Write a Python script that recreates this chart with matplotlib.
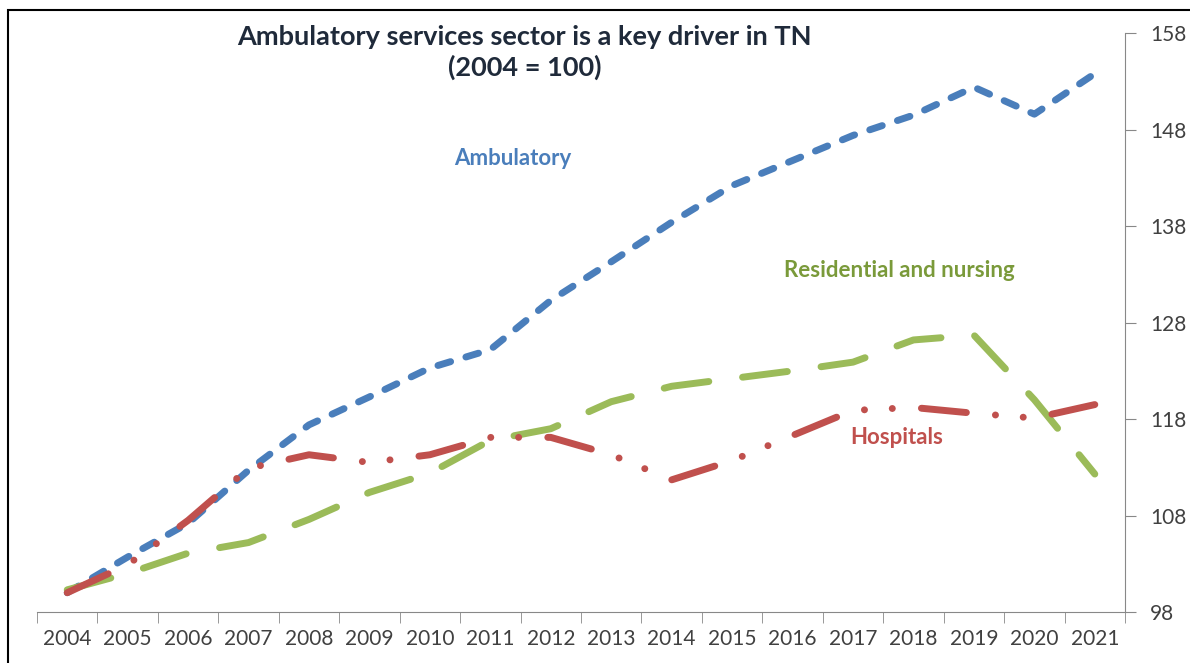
import matplotlib.pyplot as plt
from matplotlib.patches import Rectangle

# Index 2004 = 100
years = [str(y) for y in range(2004, 2022)]
ambulatory = [100, 103.7, 107.2, 112.7, 117.4, 120.3, 123.3, 125.2, 130.3,
              134.3, 138.4, 142.2, 144.8, 147.4, 149.5, 152.4, 149.6, 153.8]
residential = [100.3, 102.0, 104.1, 105.2, 107.6, 110.4, 112.4, 115.8, 117.0,
               119.8, 121.4, 122.2, 123.0, 123.9, 126.2, 126.7, 120.0, 112.3]
hospitals = [100, 102.9, 107.5, 112.9, 114.3, 113.5, 114.3, 116.1, 116.1,
             114.3, 111.7, 113.7, 116.3, 118.9, 119.2, 118.6, 118.1, 119.5]
yticks = [98, 108, 118, 128, 138, 148, 158]

blue = "#4A7EBB"
green = "#9BBB59"
red = "#C0504D"
grey = "#404040"

fig = plt.figure(figsize=(11.9, 6.63), dpi=100)
ax = fig.add_axes([0.0311, 0.0769, 0.9143, 0.8731])

x = list(range(len(years)))
lw = 5
l1, = ax.plot(x, ambulatory, color=blue, lw=lw, dash_capstyle="round")
l1.set_dashes([1.9, 2.3])
l2, = ax.plot(x, residential, color=green, lw=lw, dash_capstyle="round")
l2.set_dashes([6.5, 4.9])
l3, = ax.plot(x, hospitals, color=red, lw=lw, dash_capstyle="round")
l3.set_dashes([6.5, 4.2, 0.01, 4.0, 0.01, 4.2])

ax.set_xlim(-0.5, len(years) - 0.5)
ax.set_ylim(98, 158)

ax.yaxis.tick_right()
ax.set_yticks(yticks)
ax.set_xticks(x)
ax.set_xticklabels(years)
ax.set_xticks([i - 0.5 for i in range(len(years) + 1)], minor=True)
ax.tick_params(axis="x", which="major", length=0, pad=12, labelsize=15, labelcolor=grey)
ax.tick_params(axis="x", which="minor", length=8, color="#888888", direction="out")
ax.tick_params(axis="y", length=8, color="#888888", direction="out", labelsize=15,
               labelcolor=grey, pad=10)
for lab in ax.get_xticklabels() + ax.get_yticklabels():
    lab.set_family("Lato")

ax.spines["top"].set_visible(False)
ax.spines["left"].set_visible(False)
ax.spines["right"].set_color("#888888")
ax.spines["bottom"].set_color("#888888")

fig.text(0.441, 0.962, "Ambulatory services sector is a key driver in TN\n(2004 = 100)",
         ha="center", va="top", fontsize=19.5, fontweight="bold", color="#1F2A3A",
         family="Lato", linespacing=1.25)

ax.text(7.37, 145.0, "Ambulatory", color=blue, fontsize=16, fontweight="bold",
        family="Lato", ha="center", va="center")
ax.text(13.77, 133.4, "Residential and nursing", color="#7A9A3A", fontsize=16,
        fontweight="bold", family="Lato", ha="center", va="center")
ax.text(13.73, 116.1, "Hospitals", color=red, fontsize=16, fontweight="bold",
        family="Lato", ha="center", va="center")

# border around the chart
fig.patches.append(Rectangle((8 / 1190, -0.01), 1.1, 1 - 10 / 663 + 0.01,
                             transform=fig.transFigure, fill=False,
                             edgecolor="black", lw=1.5))

fig.savefig("out.png", dpi=100)
